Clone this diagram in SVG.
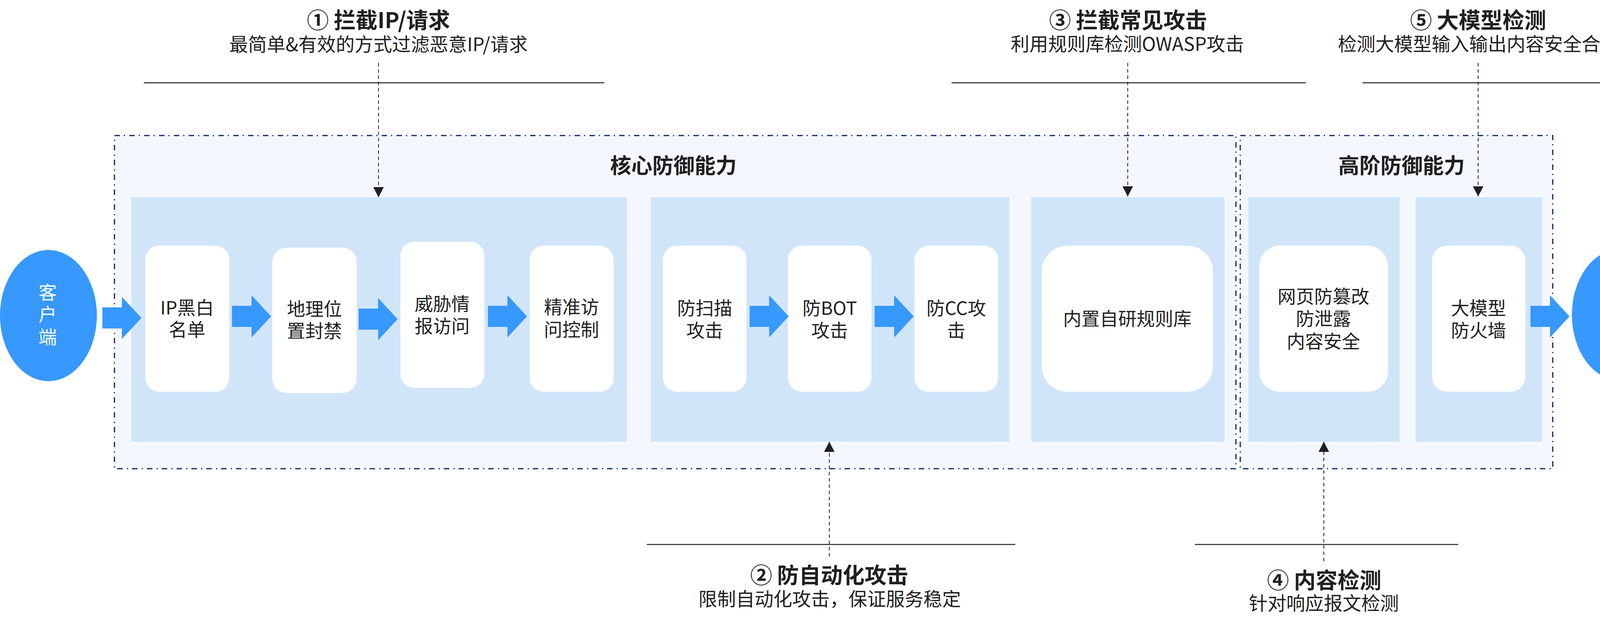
<svg xmlns="http://www.w3.org/2000/svg" width="4271" height="1613" viewBox="0 0 4271 1613">
<defs>
<style>
.outer{fill:#F4F8FE;stroke:#0A2260;stroke-width:3;stroke-dasharray:14 10 3 11;}
.panel{fill:#D1E5F9;}
.node{fill:#FFFFFF;}
.blue{fill:#3798FE;}
.t{font-family:"Noto Sans CJK SC","Noto Sans",sans-serif;fill:#1F1F1F;text-anchor:middle;}
.title{font-size:56px;font-weight:bold;}
.ptitle{font-size:54px;font-weight:bold;}
.sub{font-size:48px;}
.nt{font-size:47px;}
.wt{font-family:"Noto Sans CJK SC","Noto Sans",sans-serif;fill:#FFFFFF;text-anchor:middle;font-size:47px;}
.dash{stroke:#222222;stroke-width:2;stroke-dasharray:9 7;fill:none;}
.rule{stroke:#1F1F1F;stroke-width:2.5;}
</style>
<marker id="ah" markerUnits="userSpaceOnUse" markerWidth="27" markerHeight="27" refX="26" refY="13.5" orient="auto" viewBox="0 0 27 27">
<path d="M0,0 L26,13.5 L0,27 Z" fill="#1F1F1F"/>
</marker>
<path id="barrow" d="M0,-27 H50 V-54 L100,0 L50,54 V27 H0 Z"/>
</defs>
<rect width="4271" height="1613" fill="#FFFFFF"/>

<g id="core-group">
<rect class="outer" x="293" y="347" width="2871" height="853"/>
<text class="t ptitle" x="1724" y="444">核心防御能力</text>
<rect class="panel" x="336" y="505" width="1269" height="626"/>
<rect class="panel" x="1666" y="505" width="918" height="626"/>
<rect class="panel" x="2640" y="505" width="495" height="626"/>
</g>
<g id="advanced-group">
<rect class="outer" x="3175" y="347" width="800" height="853"/>
<text class="t ptitle" x="3588" y="444">高阶防御能力</text>
<rect class="panel" x="3196" y="505" width="387" height="626"/>
<rect class="panel" x="3624" y="505" width="324" height="626"/>
</g>

<g id="client">
<ellipse class="blue" cx="124" cy="808" rx="124" ry="168"/>
<text class="wt" x="122" y="766">客</text>
<text class="wt" x="122" y="822">户</text>
<text class="wt" x="122" y="880">端</text>
</g>
<g id="server">
<ellipse class="blue" cx="4147" cy="806" rx="123" ry="168"/>
<text class="wt" x="4145" y="773">服</text>
<text class="wt" x="4145" y="829">务</text>
<text class="wt" x="4145" y="888">端</text>
</g>

<g id="n-ip">
<rect class="node" x="372" y="629" width="215" height="374" rx="36" ry="36"/>
<text class="t nt" x="479" y="805">IP黑白</text>
<text class="t nt" x="479" y="861">名单</text>
</g>
<g id="n-geo">
<rect class="node" x="697" y="634" width="216" height="372" rx="36" ry="36"/>
<text class="t nt" x="805" y="808">地理位</text>
<text class="t nt" x="805" y="864">置封禁</text>
</g>
<g id="n-threat">
<rect class="node" x="1025" y="619" width="215" height="374" rx="36" ry="36"/>
<text class="t nt" x="1132" y="795">威胁情</text>
<text class="t nt" x="1132" y="852">报访问</text>
</g>
<g id="n-acl">
<rect class="node" x="1356" y="629" width="215" height="374" rx="36" ry="36"/>
<text class="t nt" x="1463" y="803">精准访</text>
<text class="t nt" x="1463" y="861">问控制</text>
</g>
<g id="n-scan">
<rect class="node" x="1697" y="629" width="214" height="374" rx="36" ry="36"/>
<text class="t nt" x="1804" y="806">防扫描</text>
<text class="t nt" x="1804" y="863">攻击</text>
</g>
<g id="n-bot">
<rect class="node" x="2017" y="629" width="214" height="374" rx="36" ry="36"/>
<text class="t nt" x="2124" y="806">防BOT</text>
<text class="t nt" x="2124" y="863">攻击</text>
</g>
<g id="n-cc">
<rect class="node" x="2341" y="629" width="214" height="374" rx="36" ry="36"/>
<text class="t nt" x="2448" y="806">防CC攻</text>
<text class="t nt" x="2448" y="863">击</text>
</g>
<g id="n-rules">
<rect class="node" x="2667" y="629" width="438" height="374" rx="66" ry="66"/>
<text class="t nt" x="2886" y="833">内置自研规则库</text>
</g>
<g id="n-web">
<rect class="node" x="3224" y="629" width="329" height="374" rx="52" ry="52"/>
<text class="t nt" x="3388" y="776">网页防篡改</text>
<text class="t nt" x="3388" y="833">防泄露</text>
<text class="t nt" x="3388" y="891">内容安全</text>
</g>
<g id="n-llm">
<rect class="node" x="3666" y="629" width="239" height="374" rx="38" ry="38"/>
<text class="t nt" x="3785" y="806">大模型</text>
<text class="t nt" x="3785" y="863">防火墙</text>
</g>

<g id="flow-arrows">
<use href="#barrow" class="blue" transform="translate(262,814)"/>
<use href="#barrow" class="blue" transform="translate(594,810)"/>
<use href="#barrow" class="blue" transform="translate(918,817)"/>
<use href="#barrow" class="blue" transform="translate(1249,810)"/>
<use href="#barrow" class="blue" transform="translate(1919,810)"/>
<use href="#barrow" class="blue" transform="translate(2239,810)"/>
<use href="#barrow" class="blue" transform="translate(3918,810)"/>
</g>

<g id="annotation-1">
<text class="t title" x="969" y="72">① 拦截IP/请求</text>
<text class="t sub" x="969" y="131">最简单&amp;有效的方式过滤恶意IP/请求</text>
<line class="rule" x1="368" y1="212" x2="1547" y2="212"/>
</g>
<g id="annotation-3">
<text class="t title" x="2888" y="72">③ 拦截常见攻击</text>
<text class="t sub" x="2886" y="130">利用规则库检测OWASP攻击</text>
<line class="rule" x1="2436" y1="212" x2="3343" y2="212"/>
</g>
<g id="annotation-5">
<text class="t title" x="3784" y="72">⑤ 大模型检测</text>
<text class="t sub" x="3785" y="130">检测大模型输入输出内容安全合规</text>
<line class="rule" x1="3488" y1="212" x2="4109" y2="212"/>
</g>
<g id="annotation-2">
<line class="rule" x1="1656" y1="1394" x2="2599" y2="1394"/>
<text class="t title" x="2123" y="1493">② 防自动化攻击</text>
<text class="t sub" x="2124" y="1551">限制自动化攻击，保证服务稳定</text>
</g>
<g id="annotation-4">
<line class="rule" x1="3059" y1="1394" x2="3733" y2="1394"/>
<text class="t title" x="3390" y="1506">④ 内容检测</text>
<text class="t sub" x="3389" y="1562">针对响应报文检测</text>
</g>

<g id="connectors">
<line class="dash" x1="969" y1="161" x2="969" y2="505" marker-end="url(#ah)"/>
<line class="dash" x1="2887" y1="161" x2="2887" y2="503" marker-end="url(#ah)"/>
<line class="dash" x1="3784" y1="161" x2="3784" y2="503" marker-end="url(#ah)"/>
<line class="dash" x1="2123" y1="1425" x2="2123" y2="1131" marker-end="url(#ah)"/>
<line class="dash" x1="3389" y1="1437" x2="3389" y2="1131" marker-end="url(#ah)"/>
</g>
</svg>
